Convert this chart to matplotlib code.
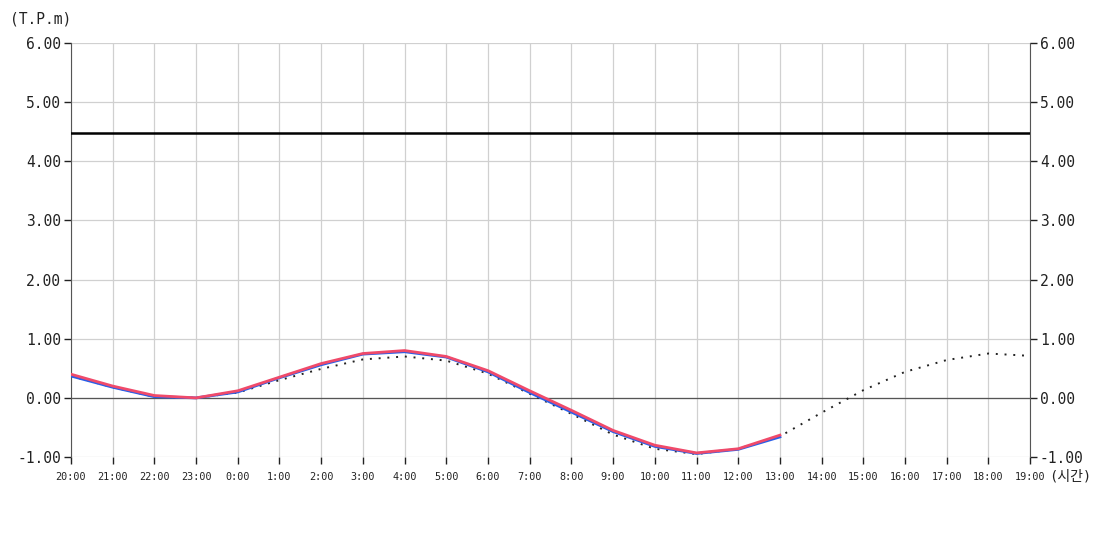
import matplotlib.pyplot as plt

plt.rcParams['font.family'] = ['DejaVu Sans Mono', 'Noto Sans CJK KR']

hours = ['20:00', '21:00', '22:00', '23:00', '0:00', '1:00', '2:00', '3:00',
         '4:00', '5:00', '6:00', '7:00', '8:00', '9:00', '10:00', '11:00',
         '12:00', '13:00', '14:00', '15:00', '16:00', '17:00', '18:00', '19:00']

# observed (red), corrected (blue), predicted (dotted)
observed = [0.40, 0.20, 0.04, 0.00, 0.12, 0.35, 0.58, 0.75, 0.80, 0.70,
            0.46, 0.12, -0.21, -0.55, -0.80, -0.93, -0.86, -0.63]
corrected = [0.37, 0.18, 0.02, 0.00, 0.10, 0.34, 0.56, 0.74, 0.78, 0.69,
             0.44, 0.09, -0.24, -0.57, -0.82, -0.94, -0.87, -0.66]
predicted = [0.37, 0.18, 0.02, 0.00, 0.09, 0.30, 0.49, 0.65, 0.70, 0.63,
             0.41, 0.07, -0.27, -0.62, -0.86, -0.95, -0.86, -0.65,
             -0.25, 0.13, 0.44, 0.64, 0.75, 0.71]
level = 4.47

x = list(range(len(hours)))

fig = plt.figure(figsize=(11, 5.5), dpi=100)
ax = fig.add_axes([0.0645, 0.169, 0.872, 0.753])

ax.plot(x, predicted, color='#222222', linestyle=(0, (1, 3.5)), linewidth=1.4, zorder=3)
ax.plot(x[:len(corrected)], corrected, color='#2a5fe8', linewidth=2, zorder=4)
ax.plot(x[:len(observed)], observed, color='#f04a6a', linewidth=2, zorder=5)
ax.axhline(level, color='black', linewidth=1.8, zorder=6)
ax.axhline(0, color='#555555', linewidth=0.9, zorder=2)

ax.set_xlim(0, len(hours) - 1)
ax.set_ylim(-1, 6)
ax.set_xticks(x)
ax.set_xticklabels(hours, fontsize=7.3, color='#222222')
yt = [-1, 0, 1, 2, 3, 4, 5, 6]
ax.set_yticks(yt)
ax.set_yticklabels(['%.2f' % v for v in yt], fontsize=10.5, color='#222222')
ax.grid(True, color='#d0d0d0', linewidth=0.9)
ax.set_axisbelow(True)

for s in ['top', 'bottom']:
    ax.spines[s].set_visible(False)
for s in ['left', 'right']:
    ax.spines[s].set_color('#555555')
ax.tick_params(axis='both', direction='out', length=5, color='#222222', width=1)
ax.tick_params(axis='y', right=True, labelright=True, pad=2)
ax.tick_params(axis='x', pad=6)

fig.text(10 / 1100, 1 - 19 / 550, '(T.P.m)', fontsize=10.5, va='center', ha='left', color='#222222')
fig.text(1049 / 1100, 1 - 477 / 550, '(시간)', fontsize=10, va='center', ha='left', color='#222222')

fig.savefig('out.png')
